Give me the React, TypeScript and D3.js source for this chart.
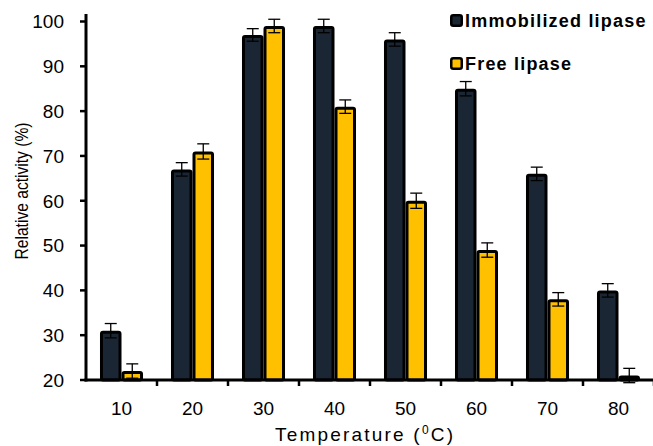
import * as d3 from "d3";

const temperatures = ["10", "20", "30", "40", "50", "60", "70", "80"];
const seriesNames = ["Immobilized lipase", "Free lipase"];
const immobilized = [31, 67, 97, 99, 96, 85, 66, 40];
const immobilizedErr = [1.6, 1.5, 1.4, 1.5, 1.5, 1.6, 1.5, 1.5];
const free = [22, 71, 99, 81, 60, 49, 38, 21];
const freeErr = [1.6, 1.7, 1.5, 1.5, 1.7, 1.6, 1.5, 1.6];
const yTicks = [20, 30, 40, 50, 60, 70, 80, 90, 100];

const colors = ["#1b2634", "#ffc000"];
const font = "'Liberation Sans', Arial, sans-serif";

export default function App() {
  const width = 653;
  const height = 446;
  const left = 86;
  const right = 654;
  const top = 21.5;
  const bottom = 380;

  const x0 = d3.scaleBand().domain(temperatures).range([left, right]).padding(0);
  const x1 = d3
    .scaleBand()
    .domain(seriesNames)
    .range([0, x0.bandwidth()])
    .paddingInner(0)
    .paddingOuter(0.65);
  const y = d3.scaleLinear().domain([20, 100]).range([bottom, top]);

  const series = [
    { name: seriesNames[0], values: immobilized, errs: immobilizedErr },
    { name: seriesNames[1], values: free, errs: freeErr },
  ];

  return (
    <svg
      width={width}
      height={height}
      style={{ position: "absolute", left: 0, top: 0, background: "#fff" }}
    >
      {/* bars */}
      {series.map((s, si) =>
        temperatures.map((t, i) => {
          const bx = (x0(t) || 0) + (x1(s.name) || 0);
          const bw = x1.bandwidth();
          const v = s.values[i];
          return (
            <rect
              key={`${s.name}-${t}`}
              x={bx + 1.5}
              y={y(v) + 1.5}
              width={bw - 3}
              height={bottom - y(v) - 1.5}
              fill={colors[si]}
              stroke="#000"
              strokeWidth={3}
              rx={1.5}
            />
          );
        })
      )}

      {/* error bars */}
      {series.map((s) =>
        temperatures.map((t, i) => {
          const cx = (x0(t) || 0) + (x1(s.name) || 0) + x1.bandwidth() / 2;
          const v = s.values[i];
          const e = s.errs[i];
          const hi = y(v + e);
          const lo = y(v - e);
          return (
            <g key={`err-${s.name}-${t}`} stroke="#000" strokeWidth={1.3}>
              <line x1={cx} x2={cx} y1={hi} y2={lo} />
              <line x1={cx - 6} x2={cx + 6} y1={hi} y2={hi} />
              <line x1={cx - 6} x2={cx + 6} y1={lo} y2={lo} />
            </g>
          );
        })
      )}

      {/* y axis */}
      <line x1={left} x2={left} y1={14} y2={bottom + 1.5} stroke="#000" strokeWidth={3} />
      {yTicks.map((v) => (
        <g key={`yt-${v}`}>
          <line x1={left - 6} x2={left} y1={y(v)} y2={y(v)} stroke="#000" strokeWidth={2.5} />
          <text
            x={64}
            y={y(v)}
            dy="0.36em"
            textAnchor="end"
            fontSize={19}
            fontFamily={font}
            fill="#000"
          >
            {v}
          </text>
        </g>
      ))}

      {/* x axis */}
      <line x1={left - 1.5} x2={right} y1={bottom} y2={bottom} stroke="#000" strokeWidth={3} />
      {temperatures.map((t) => (
        <g key={`xt-${t}`}>
          <line
            x1={(x0(t) || 0) + x0.bandwidth()}
            x2={(x0(t) || 0) + x0.bandwidth()}
            y1={bottom}
            y2={bottom + 6}
            stroke="#000"
            strokeWidth={2.5}
          />
          <text
            x={(x0(t) || 0) + x0.bandwidth() / 2}
            y={415}
            textAnchor="middle"
            fontSize={19}
            fontFamily={font}
            fill="#000"
          >
            {t}
          </text>
        </g>
      ))}

      {/* axis titles */}
      <text
        x={275}
        y={441}
        fontSize={19}
        fontFamily={font}
        fill="#000"
        letterSpacing={2.2}
      >
        Temperature (<tspan fontSize={12} dy={-7}>0</tspan>
        <tspan dy={7}>C)</tspan>
      </text>
      <text
        transform={`translate(28, 191) rotate(-90)`}
        textAnchor="middle"
        fontSize={18}
        fontFamily={font}
        fill="#000"
        textLength={137}
        lengthAdjust="spacingAndGlyphs"
      >
        Relative activity (%)
      </text>

      {/* legend */}
      {seriesNames.map((name, i) => (
        <g key={`lg-${name}`} transform={`translate(450, ${14 + i * 43})`}>
          <rect
            x={1.25}
            y={1.25}
            width={10.5}
            height={10.5}
            rx={2}
            fill={colors[i]}
            stroke="#000"
            strokeWidth={2.5}
          />
          <text
            x={15}
            y={13}
            fontSize={18}
            fontWeight="bold"
            fontFamily={font}
            fill="#000"
            letterSpacing={1.2}
          >
            {name}
          </text>
        </g>
      ))}
    </svg>
  );
}
